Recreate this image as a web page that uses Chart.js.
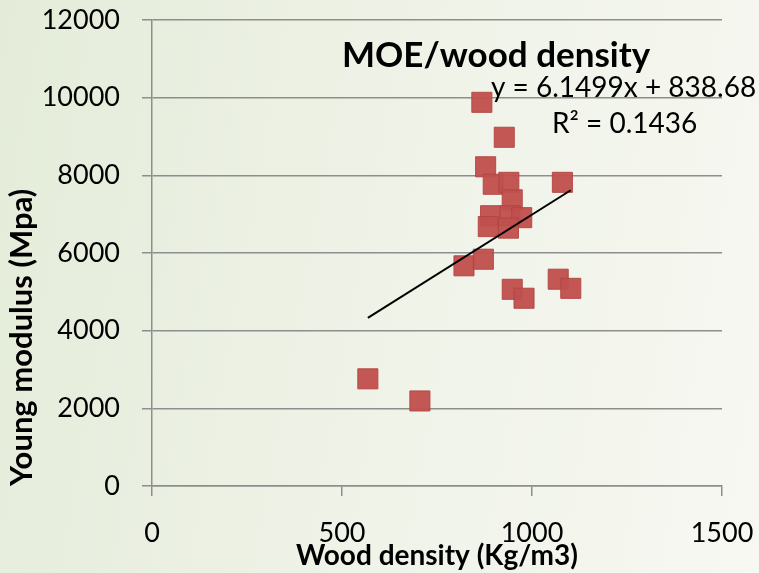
<!DOCTYPE html>
<html>
<head>
<meta charset="utf-8">
<script src="https://cdn.jsdelivr.net/npm/chart.js@4.4.0/dist/chart.umd.min.js"></script>
<style>
    html, body {
        margin: 0;
        padding: 0;
    }
    body {
        width: 759px;
        height: 573px;
        background: linear-gradient(100deg, #e4ecd9 0%, #eef2e6 45%, #f7f8f2 100%);
    }
    #chart-moe {
        display: block;
    }
</style>
</head>
<body>
<canvas id="chart-moe" width="759" height="573"></canvas>
<script>
    // wood density (Kg/m3) and young modulus (Mpa)
    const density = [868, 927, 878, 898, 939, 1080, 948, 891, 942, 973, 885, 938, 821, 872, 948, 979, 1069, 1102, 568, 705];
    const modulus = [9880, 8980, 8220, 7770, 7820, 7820, 7370, 6960, 6960, 6910, 6680, 6640, 5670, 5840, 5065, 4835, 5325, 5090, 2760, 2190];

    const xTicks = [0, 500, 1000, 1500];
    const yTicks = [0, 2000, 4000, 6000, 8000, 10000, 12000];

    const slope = 6.1499;
    const intercept = 838.68;
    const chartTitle = "MOE/wood density";
    const equationText = "y = 6.1499x + 838.68";
    const r2Text = "R\u00B2 = 0.1436";

    const gridGrey = "#8e8e8e";
    const fontName = "Lato, 'Open Sans', sans-serif";

    const points = density.map((d, i) => ({ x: d, y: modulus[i] }));
    const xMin = Math.min(...density);
    const xMax = Math.max(...density);
    const trend = [
        { x: xMin, y: slope * xMin + intercept },
        { x: xMax, y: slope * xMax + intercept },
    ];

    // title and trendline label sit inside the plot like in excel
    const labelPlugin = {
        id: "labels",
        afterDraw(chart) {
            const ctx = chart.ctx;
            ctx.save();
            ctx.fillStyle = "#000";
            ctx.textAlign = "left";
            ctx.textBaseline = "alphabetic";
            ctx.font = "bold 35px " + fontName;
            ctx.fillText(chartTitle, 342, 67);
            ctx.font = "28px " + fontName;
            ctx.fillText(equationText, 491, 97);
            ctx.fillText(r2Text, 552, 133);
            ctx.restore();
        },
    };

    new Chart(document.getElementById("chart-moe"), {
        type: "scatter",
        data: {
            datasets: [
                {
                    label: "Trend",
                    type: "line",
                    data: trend,
                    borderColor: "#000",
                    borderWidth: 2,
                    pointRadius: 0,
                    fill: false,
                    order: 0,
                },
                {
                    label: "MOE",
                    data: points,
                    pointStyle: "rect",
                    pointRadius: 14.2,
                    backgroundColor: "rgba(192, 80, 77, 0.96)",
                    borderColor: "rgba(178, 68, 65, 0.9)",
                    borderWidth: 1,
                    order: 1,
                },
            ],
        },
        options: {
            responsive: false,
            animation: false,
            devicePixelRatio: 1,
            layout: {
                padding: { top: 20, right: 37, left: 0, bottom: 0 },
            },
            plugins: {
                legend: { display: false },
                tooltip: { enabled: false },
            },
            scales: {
                x: {
                    type: "linear",
                    min: 0,
                    max: 1500,
                    afterBuildTicks(scale) {
                        scale.ticks = xTicks.map((v) => ({ value: v }));
                    },
                    afterFit(scale) {
                        scale.height = 87;
                        scale.paddingLeft = 0;
                        scale.paddingRight = 0;
                    },
                    grid: {
                        drawOnChartArea: false,
                        drawTicks: true,
                        tickLength: 10,
                        color: gridGrey,
                        lineWidth: 1.5,
                    },
                    border: { color: gridGrey, width: 1.5 },
                    ticks: {
                        color: "#000",
                        padding: 21,
                        maxRotation: 0,
                        callback: (v) => String(v),
                        font: { family: fontName, size: 27 },
                    },
                    title: {
                        display: true,
                        text: "Wood density (Kg/m3)",
                        color: "#000",
                        padding: { top: -11, bottom: 0 },
                        font: { family: fontName, size: 28, weight: "bold" },
                    },
                },
                y: {
                    type: "linear",
                    min: 0,
                    max: 12000,
                    afterBuildTicks(scale) {
                        scale.ticks = yTicks.map((v) => ({ value: v }));
                    },
                    afterFit(scale) {
                        scale.width = 152;
                        scale.paddingTop = 0;
                        scale.paddingBottom = 0;
                    },
                    grid: {
                        drawTicks: true,
                        tickLength: 10,
                        color: gridGrey,
                        lineWidth: 1.5,
                    },
                    border: { color: gridGrey, width: 1.5 },
                    ticks: {
                        color: "#000",
                        padding: 22,
                        callback: (v) => String(v),
                        font: { family: fontName, size: 27 },
                    },
                    title: {
                        display: true,
                        text: "Young modulus (Mpa)",
                        align: "start",
                        color: "#000",
                        padding: { top: 3, bottom: 0 },
                        font: { family: fontName, size: 31, weight: "bold" },
                    },
                },
            },
        },
        plugins: [labelPlugin],
    });
</script>
</body>
</html>
